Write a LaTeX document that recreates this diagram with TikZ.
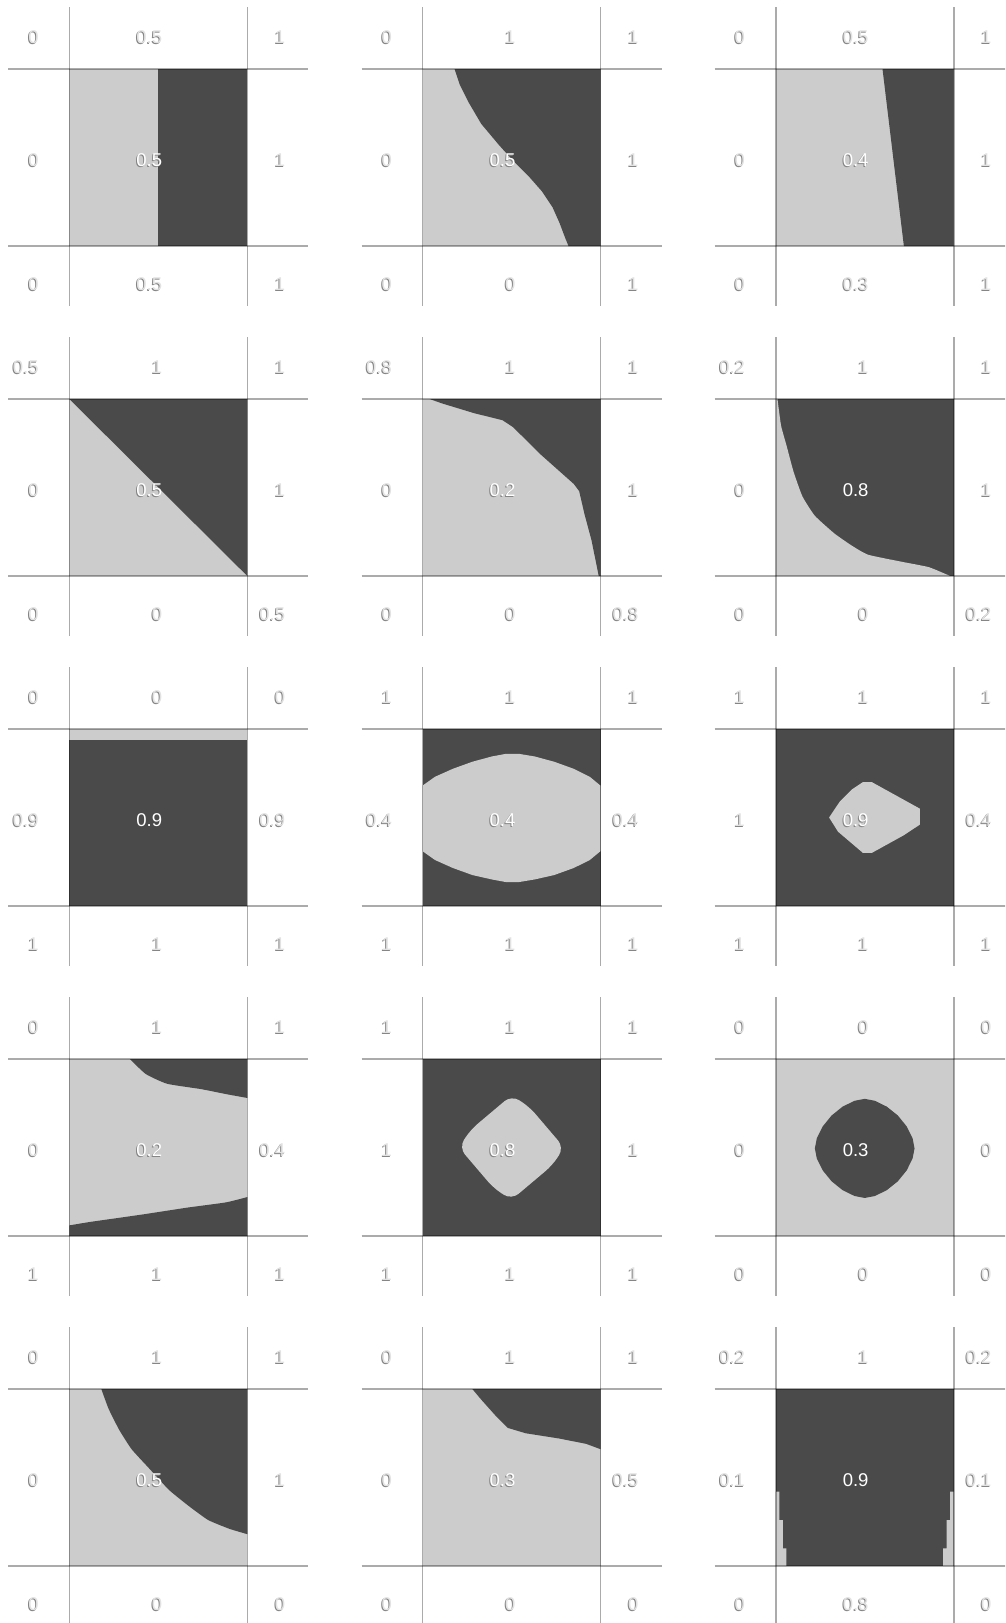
\documentclass[tikz,border=0pt]{standalone}
\usepackage{fontspec}
\setmainfont{Liberation Sans}
\definecolor{lt}{HTML}{CCCCCC}
\definecolor{dk}{HTML}{4A4A4A}
\definecolor{txo}{HTML}{E2E2E2}
\definecolor{shd}{HTML}{858585}
\tikzset{
  gl/.style={line width=1.6pt, draw=black, draw opacity=0.33},
  lb/.style={anchor=east, inner sep=0pt, font=\fontsize{18.5}{20}\selectfont},
  lbo/.style={lb, text=txo},
  lbs/.style={lb, text=shd},
  lbc/.style={lb, text=white},
  sm/.style={smooth, tension=0.3},
}
% outer label with shadow
\newcommand\lab[4]{%
  \node[lbs] (#1s) at (#2-1,#3+1) {#4};
  \node[lbo] (#1) at (#2,#3) {#4};}
% centre label with shadow
\newcommand\clab[4]{%
  \node[lbs] (#1s) at (#2-1,#3+1) {#4};
  \node[lbc] (#1) at (#2,#3) {#4};}
% centre label plain (on dark)
\newcommand\plab[4]{\node[lbc] (#1) at (#2,#3) {#4};}
% a row of three outer labels: id, cx, y, a, b, c
\newcommand\trip[6]{%
  \lab{#1a}{#2-30.5}{#3}{#4}%
  \lab{#1b}{#2+93}{#3}{#5}%
  \lab{#1c}{#2+216}{#3}{#6}}
% middle side labels: id, cx, cy, left, right
\newcommand\mids[5]{%
  \lab{#1l}{#2-30.5}{#3+91}{#4}%
  \lab{#1r}{#2+216}{#3+91}{#5}}
% grid lines of a panel
\newcommand\pgrid[2]{%
  \draw[gl] (#1,#2-62) -- (#1,#2+237);
  \draw[gl] (#1+178,#2-62) -- (#1+178,#2+237);
  \draw[gl] (#1-61,#2) -- (#1+239,#2);
  \draw[gl] (#1-61,#2+177) -- (#1+239,#2+177);}
% square content in unit coordinates
\newcommand\sq[3]{\begin{scope}[shift={(#1,#2)},x=178pt,y=-177pt]#3\end{scope}}

\begin{document}
\begin{tikzpicture}[x=1pt,y=-1pt]
\useasboundingbox (0,0) rectangle (1005,1623);
\clip (0,0) rectangle (1005,1623);
\fill[white] (0,0) rectangle (1005,1623);

% ---------------- row 0 ----------------
% P00
\sq{69.3}{69}{\fill[lt] (0,0) rectangle (1,1); \fill[dk] (0.5,0) rectangle (1,1);}
\pgrid{69.3}{69}
\trip{p00t}{69.3}{69-32}{0}{0.5}{1}
\trip{p00b}{69.3}{69+215}{0}{0.5}{1}
\mids{p00m}{69.3}{69}{0}{1}
\clab{p00c}{69.3+93}{69+91}{0.5}

% P01
\sq{422.5}{69}{\fill[lt] (0,0) rectangle (1,1);
  \fill[dk] (.18,0) -- (.21,.09) -- (.26,.19) -- (.33,.31) -- (.43,.43) -- (.52,.53) -- (.60,.61) -- (.67,.69) -- (.73,.78) -- (.77,.87) -- (.80,.95) -- (.82,1) -- (1,1) -- (1,0) -- cycle;}
\pgrid{422.5}{69}
\trip{p01t}{422.5}{69-32}{0}{1}{1}
\trip{p01b}{422.5}{69+215}{0}{0}{1}
\mids{p01m}{422.5}{69}{0}{1}
\clab{p01c}{422.5+93}{69+91}{0.5}

% P02
\sq{775.7}{69}{\fill[lt] (0,0) rectangle (1,1); \fill[dk] (.60,0) -- (.72,1) -- (1,1) -- (1,0) -- cycle;}
\pgrid{775.7}{69}
\trip{p02t}{775.7}{69-32}{0}{0.5}{1}
\trip{p02b}{775.7}{69+215}{0}{0.3}{1}
\mids{p02m}{775.7}{69}{0}{1}
\clab{p02c}{775.7+93}{69+91}{0.4}

% ---------------- row 1 ----------------
% P10
\sq{69.3}{399}{\fill[lt] (0,0) rectangle (1,1); \fill[dk] (0,0) -- (1,1) -- (1,0) -- cycle;}
\pgrid{69.3}{399}
\trip{p10t}{69.3}{399-32}{0.5}{1}{1}
\trip{p10b}{69.3}{399+215}{0}{0}{0.5}
\mids{p10m}{69.3}{399}{0}{1}
\clab{p10c}{69.3+93}{399+91}{0.5}

% P11
\sq{422.5}{399}{\fill[lt] (0,0) rectangle (1,1);
  \fill[dk] (.04,0) -- (.11,.025) -- (.29,.08) -- (.45,.12) -- (.51,.16) -- (.66,.31) -- (.85,.48) -- (.88,.52) -- (.91,.65) -- (.95,.80) -- (.98,.95) -- (.99,1) -- (1,1) -- (1,0) -- cycle;}
\pgrid{422.5}{399}
\trip{p11t}{422.5}{399-32}{0.8}{1}{1}
\trip{p11b}{422.5}{399+215}{0}{0}{0.8}
\mids{p11m}{422.5}{399}{0}{1}
\clab{p11c}{422.5+93}{399+91}{0.2}

% P12
\sq{775.7}{399}{\fill[dk] (0,0) rectangle (1,1);
  \fill[lt] (0,0) -- plot[sm] coordinates {(.01,0) (.03,.15) (.06,.26) (.10,.41) (.15,.55) (.22,.66) (.33,.76) (.43,.83) (.52,.88) (.71,.92) (.86,.95) (.98,1)} -- (0,1) -- cycle;}
\pgrid{775.7}{399}
\trip{p12t}{775.7}{399-32}{0.2}{1}{1}
\trip{p12b}{775.7}{399+215}{0}{0}{0.2}
\mids{p12m}{775.7}{399}{0}{1}
\plab{p12c}{775.7+93}{399+91}{0.8}

% ---------------- row 2 ----------------
% P20
\sq{69.3}{729}{\fill[dk] (0,0) rectangle (1,1); \fill[lt] (0,0) rectangle (1,.06);}
\pgrid{69.3}{729}
\trip{p20t}{69.3}{729-32}{0}{0}{0}
\trip{p20b}{69.3}{729+215}{1}{1}{1}
\mids{p20m}{69.3}{729}{0.9}{0.9}
\plab{p20c}{69.3+93}{729+91}{0.9}

% P21
\sq{422.5}{729}{\fill[dk] (0,0) rectangle (1,1);
  \fill[lt] (0,.32) -- (.07,.27) -- (.17,.225) -- (.28,.185) -- (.39,.155) -- (.47,.14) -- (.54,.14) -- (.63,.155) -- (.74,.185) -- (.85,.225) -- (.94,.27) -- (1,.32)
    -- (1,.69) -- (.94,.74) -- (.85,.785) -- (.74,.825) -- (.63,.85) -- (.54,.865) -- (.47,.865) -- (.39,.85) -- (.28,.825) -- (.17,.785) -- (.07,.74) -- (0,.69) -- cycle;}
\pgrid{422.5}{729}
\trip{p21t}{422.5}{729-32}{1}{1}{1}
\trip{p21b}{422.5}{729+215}{1}{1}{1}
\mids{p21m}{422.5}{729}{0.4}{0.4}
\clab{p21c}{422.5+93}{729+91}{0.4}

% P22
\sq{775.7}{729}{\fill[dk] (0,0) rectangle (1,1);
  \fill[lt] (0.30,0.50) -- (0.36,0.41) -- (0.43,0.34) -- (0.49,0.30) -- (0.54,0.30) -- (0.63,0.35) -- (0.72,0.40) -- (0.81,0.45) -- (0.81,0.54) -- (0.72,0.60) -- (0.63,0.65) -- (0.54,0.70) -- (0.49,0.70) -- (0.42,0.64) -- (0.35,0.58) -- cycle;}
\pgrid{775.7}{729}
\trip{p22t}{775.7}{729-32}{1}{1}{1}
\trip{p22b}{775.7}{729+215}{1}{1}{1}
\mids{p22m}{775.7}{729}{1}{0.4}
\clab{p22c}{775.7+93}{729+91}{0.9}

% ---------------- row 3 ----------------
% P30
\sq{69.3}{1059}{\fill[lt] (0,0) rectangle (1,1);
  \fill[dk] plot[sm] coordinates {(.34,0) (.43,.085) (.55,.14) (.74,.17) (.89,.20) (1,.22)} -- (1,0) -- cycle;
  \fill[dk] plot[sm] coordinates {(0,.94) (.12,.92) (.40,.88) (.66,.84) (.88,.81) (1,.78)} -- (1,1) -- (0,1) -- cycle;}
\pgrid{69.3}{1059}
\trip{p30t}{69.3}{1059-32}{0}{1}{1}
\trip{p30b}{69.3}{1059+215}{1}{1}{1}
\mids{p30m}{69.3}{1059}{0}{0.4}
\clab{p30c}{69.3+93}{1059+91}{0.2}

% P31 (rounded diamond)
\sq{422.5}{1059}{\fill[dk] (0,0) rectangle (1,1);
  \fill[lt, rounded corners=9pt] (.5,.205) -- (.6,.27) -- (.795,.5) -- (.73,.6) -- (.5,.795) -- (.4,.73) -- (.205,.5) -- (.27,.4) -- cycle;}
\pgrid{422.5}{1059}
\trip{p31t}{422.5}{1059-32}{1}{1}{1}
\trip{p31b}{422.5}{1059+215}{1}{1}{1}
\mids{p31m}{422.5}{1059}{1}{1}
\clab{p31c}{422.5+93}{1059+91}{0.8}

% P32 (rounder blob)
\sq{775.7}{1059}{\fill[lt] (0,0) rectangle (1,1);
  \fill[dk] (.78,.505) -- (.769,.448) -- (.736,.381) -- (.686,.319) -- (.624,.269) -- (.557,.236) -- (.5,.225) -- (.443,.236) -- (.376,.269) -- (.314,.319) -- (.264,.381) -- (.231,.448) -- (.22,.505) -- (.231,.562) -- (.264,.629) -- (.314,.691) -- (.376,.741) -- (.443,.774) -- (.5,.785) -- (.557,.774) -- (.624,.741) -- (.686,.691) -- (.736,.629) -- (.769,.562) -- cycle;}
\pgrid{775.7}{1059}
\trip{p32t}{775.7}{1059-32}{0}{0}{0}
\trip{p32b}{775.7}{1059+215}{0}{0}{0}
\mids{p32m}{775.7}{1059}{0}{0}
\plab{p32c}{775.7+93}{1059+91}{0.3}

% ---------------- row 4 ----------------
% P40
\sq{69.3}{1389}{\fill[lt] (0,0) rectangle (1,1);
  \fill[dk] plot[sm] coordinates {(.18,0) (.22,.11) (.28,.23) (.35,.34) (.45,.45) (.56,.57) (.67,.66) (.78,.74) (.90,.79) (1,.82)} -- (1,0) -- cycle;}
\pgrid{69.3}{1389}
\trip{p40t}{69.3}{1389-32}{0}{1}{1}
\trip{p40b}{69.3}{1389+215}{0}{0}{0}
\mids{p40m}{69.3}{1389}{0}{1}
\clab{p40c}{69.3+93}{1389+91}{0.5}

% P41
\sq{422.5}{1389}{\fill[lt] (0,0) rectangle (1,1);
  \fill[dk] (.28,0) -- (.33,.06) -- (.41,.15) -- (.48,.22) -- (.58,.25) -- (.77,.28) -- (.92,.31) -- (1,.34) -- (1,0) -- cycle;}
\pgrid{422.5}{1389}
\trip{p41t}{422.5}{1389-32}{0}{1}{1}
\trip{p41b}{422.5}{1389+215}{0}{0}{0}
\mids{p41m}{422.5}{1389}{0}{0.5}
\clab{p41c}{422.5+93}{1389+91}{0.3}

% P42
\sq{775.7}{1389}{\fill[dk] (0,0) rectangle (1,1);
  \fill[lt] (0,.58) -- (.02,.58) -- (.02,.74) -- (.04,.74) -- (.04,.90) -- (.06,.90) -- (.06,1) -- (0,1) -- cycle;
  \fill[lt] (1,.58) -- (.98,.58) -- (.98,.74) -- (.96,.74) -- (.96,.90) -- (.94,.90) -- (.94,1) -- (1,1) -- cycle;}
\pgrid{775.7}{1389}
\trip{p42t}{775.7}{1389-32}{0.2}{1}{0.2}
\trip{p42b}{775.7}{1389+215}{0}{0.8}{0}
\mids{p42m}{775.7}{1389}{0.1}{0.1}
\plab{p42c}{775.7+93}{1389+91}{0.9}

\end{tikzpicture}
\end{document}
